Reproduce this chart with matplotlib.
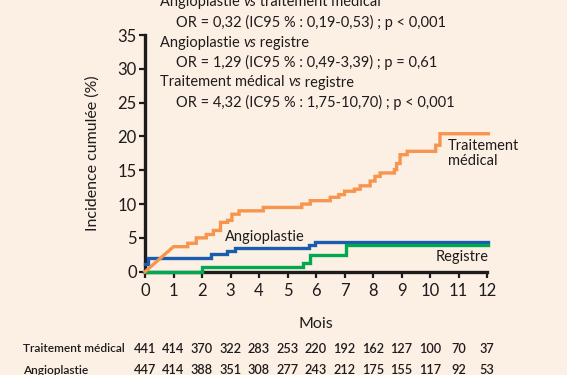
import numpy as np
import matplotlib
matplotlib.use("Agg")
import matplotlib.pyplot as plt

# cumulative incidence (%) - step curves
med_t = [0, 1.0, 1.5, 1.8, 2.15, 2.4, 2.65, 2.9, 3.05, 3.3, 4.15, 5.5, 5.8, 6.5, 6.8,
         7.0, 7.35, 7.55, 7.9, 8.07, 8.25, 8.75, 8.83, 8.95, 9.2, 10.2, 10.35, 12.05]
med_v = [0, 3.7, 4.2, 5.0, 5.5, 6.1, 7.3, 7.6, 8.5, 9.0, 9.5, 10.0, 10.5, 11.0, 11.4,
         11.9, 12.2, 12.7, 13.4, 14.1, 14.6, 15.1, 16.0, 17.3, 17.8, 18.7, 20.4, 20.4]
angio_t = [0, 0.12, 2.33, 2.87, 3.15, 5.75, 5.95, 12.05]
angio_v = [1.2, 2.0, 2.6, 3.0, 3.45, 3.9, 4.4, 4.4]
reg_t = [0, 2.0, 5.55, 5.8, 7.05, 12.05]
reg_v = [0, 0.75, 1.3, 2.5, 3.9, 3.9]

months = list(range(13))
risk_labels = ["Traitement médical", "Angioplastie", "Registre"]
risk_med = [441, 414, 370, 322, 283, 253, 220, 192, 162, 127, 100, 70, 37]
risk_angio = [447, 414, 388, 351, 308, 277, 243, 212, 175, 155, 117, 92, 53]
risk_reg = [244, 231, 215, 199, 177, 161, 88, 74, 61, 52, 41, 32, 19]  # row is cut off

bg = "#fcf0e4"
c_med = "#f7954f"
c_angio = "#1b5cae"
c_reg = "#00a850"
ink = "#1f1b1c"

W, H, DPI = 567, 375, 100
plt.rcParams["font.family"] = ["Lato", "DejaVu Sans"]


def step_xy(t, v, diagonal_start=False):
    xs, ys = [t[0]], [v[0]]
    for i in range(1, len(t)):
        if not (diagonal_start and i == 1):
            xs.append(t[i])
            ys.append(v[i - 1])
        xs.append(t[i])
        ys.append(v[i])
    return xs, ys


fig = plt.figure(figsize=(W / DPI, H / DPI), dpi=DPI, facecolor=bg)
ax = fig.add_axes([145 / W, 1 - 271.7 / H, 342 / W, 236.7 / H])
ax.set_facecolor(bg)

for t, v, c, diag in [(angio_t, angio_v, c_angio, False),
                      (reg_t, reg_v, c_reg, False),
                      (med_t, med_v, c_med, True)]:
    xs, ys = step_xy(t, v, diag)
    ax.plot(xs, ys, color=c, lw=2.4, clip_on=False, solid_joinstyle="miter", zorder=5)

ax.set_xlim(0, 12)
ax.set_ylim(0, 35)
ax.set_xticks(months)
ax.set_yticks(range(0, 36, 5))
for s in ["top", "right"]:
    ax.spines[s].set_visible(False)
for s in ["left", "bottom"]:
    ax.spines[s].set_linewidth(2.4)
    ax.spines[s].set_color(ink)
    ax.spines[s].set_zorder(4)
ax.tick_params(direction="out", length=4, width=1.6, color=ink,
               labelsize=12, labelcolor=ink, pad=2)
ax.tick_params(axis="x", pad=4)

ax.set_ylabel("Incidence cumulée (%)", fontsize=11.5, color=ink, labelpad=13)
ax.set_xlabel("Mois", fontsize=11.5, color=ink, labelpad=13)

ax.text(4.2, 5.2, "Angioplastie", fontsize=10.5, color=ink, ha="center", va="center")
ax.text(10.64, 17.5, "Traitement\nmédical", fontsize=10.5, color=ink,
        ha="left", va="center", linespacing=1.15)
ax.text(12.05, 2.1, "Registre", fontsize=10.5, color=ink, ha="right", va="center")

# odds ratios block
lines = [
    (160, 2, [("Angioplastie ", "normal"), ("vs", "italic"), (" traitement médical", "normal")]),
    (176.5, 22.4, [("OR = 0,32 (IC95 % : 0,19-0,53) ; p < 0,001", "normal")]),
    (160, 42.7, [("Angioplastie ", "normal"), ("vs", "italic"), (" registre", "normal")]),
    (176.5, 62.2, [("OR = 1,29 (IC95 % : 0,49-3,39) ; p = 0,61", "normal")]),
    (160, 82.5, [("Traitement médical ", "normal"), ("vs", "italic"), (" registre", "normal")]),
    (176.5, 102.4, [("OR = 4,32 (IC95 % : 1,75-10,70) ; p < 0,001", "normal")]),
]
fig.canvas.draw()
renderer = fig.canvas.get_renderer()
for x, y, parts in lines:
    xpos = x
    for txt, style in parts:
        t = fig.text(xpos / W, 1 - y / H, txt, fontsize=10.5, style=style,
                     color=ink, ha="left", va="center")
        bb = t.get_window_extent(renderer)
        xpos += bb.width

# number at risk table
rows = [risk_med, risk_angio, risk_reg]
row_y = [348.8, 370.5, 392.2]
for lab, vals, y in zip(risk_labels, rows, row_y):
    fig.text(23 / W, 1 - y / H, lab, fontsize=8.6, color=ink, weight="semibold",
             ha="left", va="center")
    for m, n in zip(months, vals):
        xp = ax.transData.transform((m, 0))[0]
        fig.text(xp / W, 1 - y / H, str(n), fontsize=9.2, color=ink, weight="semibold",
                 ha="center", va="center")

fig.savefig("out.png", dpi=DPI, facecolor=bg)
